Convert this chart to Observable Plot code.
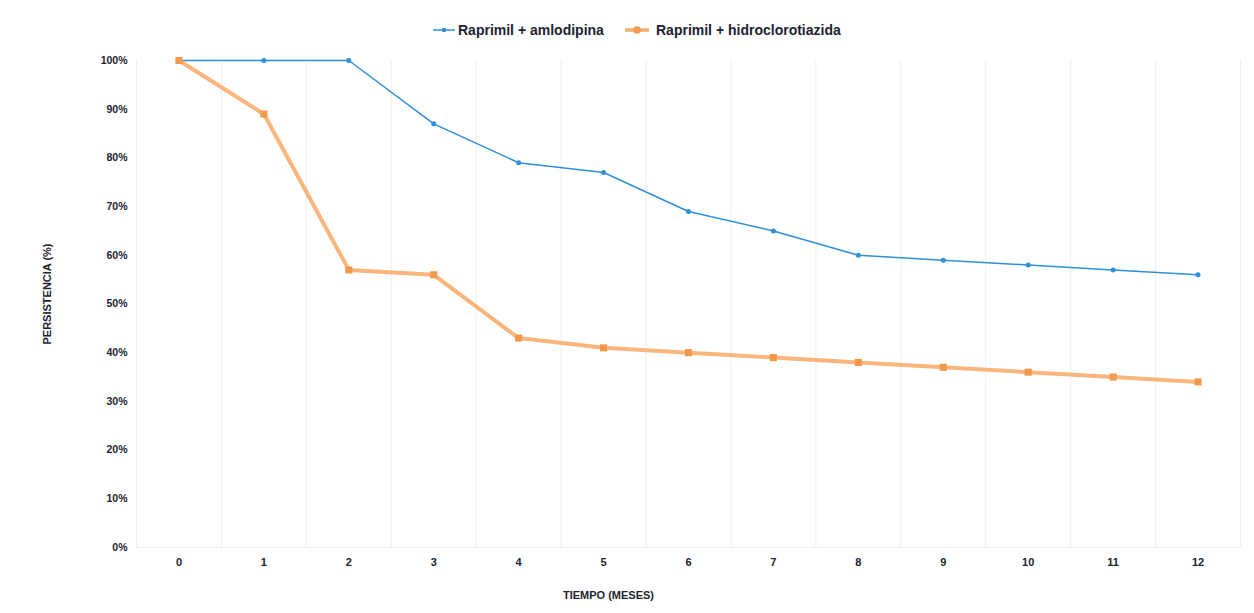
<!DOCTYPE html>
<html>
<head>
<meta charset="utf-8">
<script src="https://cdn.jsdelivr.net/npm/d3@7"></script>
<script src="https://cdn.jsdelivr.net/npm/@observablehq/plot@0.6"></script>
<style>
  body { margin: 0; background: #fff; font-family: "Liberation Sans", Arial, sans-serif; }
  #legend { height: 45px; position: relative; font-weight: bold; font-size: 14px; color: #1c2430; }
  .item { position: absolute; top: 22px; display: flex; align-items: center; white-space: nowrap; }
</style>
</head>
<body>
<div id="legend"></div>
<div id="chart"></div>
<script>
const months = [0,1,2,3,4,5,6,7,8,9,10,11,12];
const amlodipina = [100,100,100,87,79,77,69,65,60,59,58,57,56];
const hidroclorotiazida = [100,89,57,56,43,41,40,39,38,37,36,35,34];
const seriesNames = ["Raprimil + amlodipina", "Raprimil + hidroclorotiazida"];
const yTicks = [0,10,20,30,40,50,60,70,80,90,100];
const colors = ["#2f8fd8", "#f7ad6e"];
const orangeDot = "#f2984c";

const rowsA = months.map((m,i) => ({m, v: amlodipina[i], s: seriesNames[0]}));
const rowsH = months.map((m,i) => ({m, v: hidroclorotiazida[i], s: seriesNames[1]}));
const gridX = [-0.5, ...months.map(m => m + 0.5)];

// legend
const legend = document.getElementById("legend");
const lpos = [433, 625];
seriesNames.forEach((name, i) => {
  const d = document.createElement("div");
  d.className = "item";
  d.style.left = lpos[i] + "px";
  const sw = i === 0
    ? `<svg width="22" height="10"><line x1="0" y1="5" x2="22" y2="5" stroke="${colors[0]}" stroke-width="1.5"/><circle cx="11" cy="5" r="2.3" fill="${colors[0]}"/></svg>`
    : `<svg width="24" height="10"><line x1="0" y1="5" x2="24" y2="5" stroke="${colors[1]}" stroke-width="3.5"/><circle cx="12" cy="5" r="3.8" fill="${orangeDot}"/></svg>`;
  d.innerHTML = sw + `<span style="margin-left:${i===0?3:7}px">${name}</span>`;
  legend.appendChild(d);
});

const plot = Plot.plot({
  width: 1254,
  height: 568,
  marginTop: 15,
  marginBottom: 66,
  marginLeft: 136,
  marginRight: 14,
  style: { fontFamily: "Liberation Sans, Arial, sans-serif", fontWeight: "bold", fontSize: "10.5px", color: "#1c2430", background: "#fff" },
  x: { domain: [-0.5, 12.5], label: null },
  y: { domain: [0, 100], label: null },
  marks: [
    Plot.ruleX(gridX, { stroke: "#e8eff7", strokeWidth: 1 }),
    Plot.ruleY([0], { stroke: "#e8eff7", strokeWidth: 1 }),
    Plot.line(rowsA, { x: "m", y: "v", stroke: colors[0], strokeWidth: 1.5 }),
    Plot.dot(rowsA, { x: "m", y: "v", symbol: "circle", r: 2.5, fill: colors[0] }),
    Plot.line(rowsH, { x: "m", y: "v", stroke: colors[1], strokeWidth: 4, strokeOpacity: 0.9 }),
    Plot.dot(rowsH, { x: "m", y: "v", symbol: "square", r: 4, fill: orangeDot }),
    Plot.axisX({ ticks: months, tickFormat: d => String(d), tickSize: 0, tickPadding: 11, label: null, fontSize: 11 }),
    Plot.axisY({ ticks: yTicks, tickFormat: d => d + "%", tickSize: 0, tickPadding: 9, label: null }),
    Plot.text(["TIEMPO (MESES)"], { frameAnchor: "bottom", dx: -80, dy: 51, fontSize: 11, fontWeight: "bold", fill: "#1c2430" }),
    Plot.text(["PERSISTENCIA (%)"], { frameAnchor: "left", textAnchor: "middle", rotate: -90, dx: -89, dy: -10, fontSize: 11, fontWeight: "bold", fill: "#1c2430" })
  ]
});
document.getElementById("chart").appendChild(plot);
</script>
</body>
</html>
